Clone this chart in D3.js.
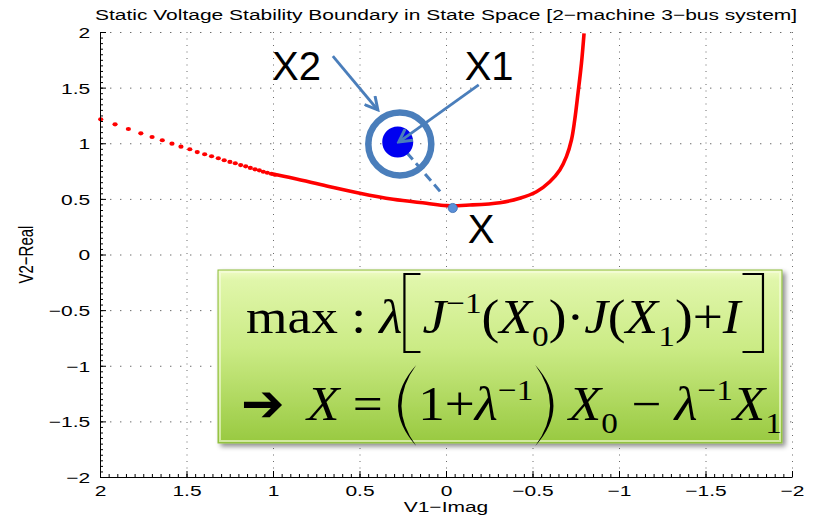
<!DOCTYPE html>
<html>
<head>
<meta charset="utf-8">
<script src="https://cdn.jsdelivr.net/npm/d3@7"></script>
<style>
  body { margin: 0; background: #fff; }
  svg { display: block; }
  .tick text { font-family: "Liberation Sans", Arial, sans-serif; font-size: 15px; fill: #000; }
  .axis path, .axis line { stroke: #000; }
  .grid line { stroke: #6a6a6a; stroke-width: 1; }
  .grid path { display: none; }
</style>
</head>
<body>
<svg width="823" height="515"></svg>
<script>
(function (d3) {
    'use strict';
    const SIZE = { width: 823, height: 515 };
    const MARGIN = { left: 100, right: 31, top: 32, bottom: 38 };
    const SX = 1.4; // the picture is stretched sideways, so is its text
    const COLORS = {
      boundary: '#ff0000',
      note: '#4a7ebb',
      point: '#0000f0',
      dot: '#5a8fd8'
    };

    // boundary: sparse dots, then the dense part
    const dotX = [1.996, 1.913, 1.836, 1.764, 1.699, 1.640, 1.584, 1.532, 1.481, 1.438, 1.395, 1.355, 1.316,
                  1.282, 1.249, 1.218, 1.187, 1.158, 1.131, 1.104, 1.079, 1.056, 1.033, 1.010, 0.989];
    const dotY = [1.215, 1.170, 1.128, 1.089, 1.056, 1.027, 0.996, 0.969, 0.946, 0.921, 0.901, 0.883, 0.865,
                  0.847, 0.832, 0.820, 0.804, 0.793, 0.778, 0.766, 0.757, 0.744, 0.735, 0.726, 0.717];
    const lineX = [1.010, 0.883, 0.690, 0.498, 0.306, 0.113, -0.003, -0.137, -0.311, -0.426, -0.523,
                   -0.600, -0.658, -0.696, -0.725, -0.744, -0.763, -0.783, -0.798];
    const lineY = [0.726, 0.685, 0.616, 0.550, 0.496, 0.460, 0.439, 0.445, 0.466, 0.505, 0.564,
                   0.654, 0.760, 0.879, 1.029, 1.209, 1.449, 1.719, 1.988];

    const xTicks = [2, 1.5, 1, 0.5, 0, -0.5, -1, -1.5, -2];
    const xTickLabels = ['2', '1.5', '1', '0.5', '0', '\u22120.5', '\u22121', '\u22121.5', '\u22122'];
    const yTicks = [-2, -1.5, -1, -0.5, 0, 0.5, 1, 1.5, 2];
    const yTickLabels = ['\u22122', '\u22121.5', '\u22121', '\u22120.5', '0', '0.5', '1', '1.5', '2'];

    // annotation points (state space coordinates)
    const pointX0 = [0.279, 1.011];
    const ringX2 = [0.267, 0.993];
    const pointX = [-0.039, 0.418];
    const dashFrom = [0.279, 1.011], dashTo = [0.018, 0.538];
    const arrows = [
      { from: [0.654, 1.784], to: [0.394, 1.299] },
      { from: [-0.189, 1.524], to: [0.273, 1.011] }
    ];
    const labels = [
      { text: 'X2', at: [1.006, 1.572] },
      { text: 'X1', at: [-0.108, 1.572] },
      { text: 'X', at: [-0.126, 0.103] }
    ];

    const svg = d3.select('svg');
    const x = d3.scaleLinear().domain([2, -2]).range([MARGIN.left, SIZE.width - MARGIN.right]);
    const y = d3.scaleLinear().domain([-2, 2]).range([SIZE.height - MARGIN.bottom, MARGIN.top]);
    const plotW = x.range()[1] - x.range()[0];
    const plotH = y.range()[0] - y.range()[1];

    const defs = svg.append('defs');
    defs.append('marker')
      .attr('id', 'open-arrow')
      .attr('viewBox', '0 -7 14 14')
      .attr('refX', 12).attr('refY', 0)
      .attr('markerUnits', 'userSpaceOnUse')
      .attr('markerWidth', 16).attr('markerHeight', 16)
      .attr('orient', 'auto')
      .append('path')
      .attr('d', 'M1,-6L12,0L1,6')
      .attr('fill', 'none')
      .attr('stroke', COLORS.note)
      .attr('stroke-width', 2.6);

    const grad = defs.append('linearGradient')
      .attr('id', 'box-fill').attr('x1', 0).attr('y1', 0).attr('x2', 0).attr('y2', 1);
    [['0%', '#f0fbc6'], ['6%', '#e0f6aa'], ['45%', '#cbeb85'], ['100%', '#98c940']]
      .forEach(([o, c]) => grad.append('stop').attr('offset', o).attr('stop-color', c));

    const shadow = defs.append('filter').attr('id', 'shadow')
      .attr('x', '-5%').attr('y', '-5%').attr('width', '115%').attr('height', '120%');
    shadow.append('feDropShadow')
      .attr('dx', 3).attr('dy', 3).attr('stdDeviation', 2.5)
      .attr('flood-color', '#000').attr('flood-opacity', 0.45);

    // grid
    svg.append('g').attr('class', 'grid')
      .attr('transform', `translate(0,${MARGIN.top})`)
      .call(d3.axisBottom(x).tickValues(xTicks).tickSize(plotH).tickFormat(''))
      .selectAll('line').attr('stroke-dasharray', '1,5.5');
    svg.append('g').attr('class', 'grid')
      .attr('transform', `translate(${MARGIN.left},0)`)
      .call(d3.axisRight(y).tickValues(yTicks).tickSize(plotW).tickFormat(''))
      .selectAll('line').attr('stroke-dasharray', '1.4,8.6');

    // boundary
    const line = d3.line()
      .x(i => x(lineX[i]))
      .y(i => y(lineY[i]))
      .curve(d3.curveCatmullRom.alpha(0.5));
    svg.append('path')
      .attr('d', line(d3.range(lineX.length)))
      .attr('fill', 'none')
      .attr('stroke', COLORS.boundary)
      .attr('stroke-width', 3.6);

    svg.append('g').selectAll('ellipse')
      .data(dotX)
      .enter()
      .append('ellipse')
      .attr('cx', d => x(d))
      .attr('cy', (d, i) => y(dotY[i]))
      .attr('rx', 2.6).attr('ry', 2.1)
      .attr('fill', COLORS.boundary);

    // axes with minor ticks pointing inward
    const yAxisG = svg.append('g').attr('class', 'axis')
      .attr('transform', `translate(${MARGIN.left},0)`)
      .call(d3.axisLeft(y).tickValues(yTicks).tickSizeInner(-6).tickSizeOuter(0).tickPadding(7)
        .tickFormat((d, i) => yTickLabels[i]));
    yAxisG.selectAll('text').attr('dy', '0.36em').attr('transform', `scale(${SX},1)`);
    svg.append('g').attr('class', 'axis')
      .attr('transform', `translate(${MARGIN.left},0)`)
      .call(d3.axisLeft(y).ticks(80).tickSize(-3).tickFormat(''))
      .select('.domain').remove();

    const xAxisG = svg.append('g').attr('class', 'axis')
      .attr('transform', `translate(0,${y.range()[0]})`)
      .call(d3.axisBottom(x).tickValues(xTicks).tickSizeInner(-6).tickSizeOuter(0).tickPadding(8)
        .tickFormat((d, i) => xTickLabels[i]));
    xAxisG.selectAll('text').attr('transform', `scale(${SX},1)`);
    svg.append('g').attr('class', 'axis')
      .attr('transform', `translate(0,${y.range()[0]})`)
      .call(d3.axisBottom(x).ticks(80).tickSize(-3).tickFormat(''))
      .select('.domain').remove();

    const sansText = (sel, txt, px, py, extra) => sel.append('text')
      .attr('transform', `translate(${px},${py}) scale(${SX},1)${extra || ''}`)
      .attr('text-anchor', 'middle')
      .attr('font-family', '"Liberation Sans", Arial, sans-serif')
      .attr('font-size', 15)
      .text(txt);

    sansText(svg, 'Static Voltage Stability Boundary in State Space [2\u2212machine 3\u2212bus system]',
      x(0), 20);
    sansText(svg, 'V1\u2212Imag', x(0), 512);
    sansText(svg, 'V2\u2212Real', 33, y(0), ' rotate(-90)');

    // annotations
    const notes = svg.append('g');
    notes.append('line')
      .attr('x1', x(dashFrom[0])).attr('y1', y(dashFrom[1]))
      .attr('x2', x(dashTo[0])).attr('y2', y(dashTo[1]))
      .attr('stroke', COLORS.note).attr('stroke-width', 3)
      .attr('stroke-dasharray', '9,5');
    notes.append('circle')
      .attr('cx', x(pointX0[0])).attr('cy', y(pointX0[1])).attr('r', 15.5)
      .attr('fill', COLORS.point);
    notes.append('circle')
      .attr('cx', x(ringX2[0])).attr('cy', y(ringX2[1])).attr('r', 31.5)
      .attr('fill', 'none').attr('stroke', COLORS.note).attr('stroke-width', 6.5);
    notes.append('circle')
      .attr('cx', x(pointX[0])).attr('cy', y(pointX[1])).attr('r', 4.6)
      .attr('fill', COLORS.dot).attr('stroke', '#3f6fb0').attr('stroke-width', 0.8);
    notes.selectAll('.arrow')
      .data(arrows)
      .enter()
      .append('line')
      .attr('class', 'arrow')
      .attr('x1', d => x(d.from[0])).attr('y1', d => y(d.from[1]))
      .attr('x2', d => x(d.to[0])).attr('y2', d => y(d.to[1]))
      .attr('stroke', COLORS.note).attr('stroke-width', 2.8)
      .attr('marker-end', 'url(#open-arrow)');
    notes.selectAll('.label')
      .data(labels)
      .enter()
      .append('text')
      .attr('class', 'label')
      .attr('x', d => x(d.at[0])).attr('y', d => y(d.at[1]))
      .attr('font-family', '"Liberation Sans", Arial, sans-serif')
      .attr('font-size', 40)
      .text(d => d.text);

    // formula box
    const box = svg.append('g');
    box.append('rect')
      .attr('x', 218).attr('y', 270).attr('width', 564).attr('height', 173)
      .attr('fill', 'url(#box-fill)')
      .attr('stroke', '#8dbb3e').attr('stroke-width', 1)
      .attr('filter', 'url(#shadow)');
    box.append('rect')
      .attr('x', 220).attr('y', 272).attr('width', 560).attr('height', 169)
      .attr('fill', 'none').attr('stroke', '#f6fde0').attr('stroke-opacity', 0.6).attr('stroke-width', 2);

    // tall brackets are drawn as thin shapes in the gap left for them
    const fence = (sel, kind, xl, xr, top, bot) => {
      const mid = (top + bot) / 2;
      if (kind === '[' || kind === ']') {
        const d = kind === '['
          ? `M${xr},${top}H${xl}V${bot}H${xr}`
          : `M${xl},${top}H${xr}V${bot}H${xl}`;
        sel.append('path').attr('d', d)
          .attr('fill', 'none').attr('stroke', '#000').attr('stroke-width', 2.2);
      } else {
        const tip = kind === '(' ? xr : xl;
        const edge = kind === '(' ? xl : xr;
        const inner = kind === '(' ? xl + 3.4 : xr - 3.4;
        sel.append('path')
          .attr('d', `M${tip},${top}Q${2 * edge - tip},${mid} ${tip},${bot}` +
                     `Q${2 * inner - tip},${mid} ${tip},${top}Z`)
          .attr('fill', '#000');
      }
    };

    const mathLine = (sel, parts, x0, x1, base) => {
      const t = sel.append('text')
        .attr('x', 0).attr('y', base)
        .attr('font-family', '"Liberation Serif", "Times New Roman", serif')
        .attr('font-size', 48);
      let shift = 0;
      const spans = parts.map(p => {
        const dy = (p.dy || 0) - shift;
        shift = p.dy || 0;
        const s = t.append('tspan')
          .attr('dy', dy)
          .attr('font-size', p.fence ? p.w * 4 : (p.fs || 48))
          .attr('font-style', p.it ? 'italic' : null)
          .text(p.fence ? '\u00a0' : p.t);
        return { p, node: s.node() };
      });
      const k = (x1 - x0) / t.node().getComputedTextLength();
      t.attr('transform', `translate(${x0},0) scale(${k},1)`);
      spans.filter(s => s.p.fence).forEach(s => {
        const sx = s.node.getStartPositionOfChar(0).x;
        const w = s.node.getComputedTextLength();
        fence(sel, s.p.fence, x0 + k * sx + 2, x0 + k * (sx + w) - 2, s.p.top, s.p.bot);
      });
    };

    const NB = '\u00a0';
    mathLine(box, [
      { t: 'max' + NB + ':' + NB }, { t: '\u03bb', it: 1 },
      { fence: '[', w: 18, top: 274, bot: 352 },
      { t: 'J', it: 1 }, { t: '\u22121', fs: 30, dy: -20 }, { t: '(' }, { t: 'X', it: 1 },
      { t: '0', fs: 30, dy: 13 }, { t: ')\u00b7' }, { t: 'J', it: 1 }, { t: '(' }, { t: 'X', it: 1 },
      { t: '1', fs: 30, dy: 13 }, { t: ')+' }, { t: 'I', it: 1 },
      { fence: ']', w: 22, top: 274, bot: 352 }
    ], 246, 765, 333);

    box.append('text')
      .attr('x', 241).attr('y', 421)
      .attr('font-family', '"DejaVu Sans", sans-serif')
      .attr('font-weight', 'bold')
      .attr('font-size', 52)
      .text('\u2794');

    mathLine(box, [
      { t: 'X', it: 1 }, { t: NB + '=' + NB }, { fence: '(', w: 20, top: 365, bot: 446 },
      { t: '1+' }, { t: '\u03bb', it: 1 },
      { t: '\u22121', fs: 30, dy: -20 }, { fence: ')', w: 20, top: 365, bot: 446 }, { t: NB },
      { t: 'X', it: 1 }, { t: '0', fs: 30, dy: 13 }, { t: NB + '\u2212' + NB }, { t: '\u03bb', it: 1 },
      { t: '\u22121', fs: 30, dy: -20 }, { t: 'X', it: 1 }, { t: '1', fs: 30, dy: 13 }
    ], 307, 782, 420);

}(d3));
</script>
</body>
</html>
